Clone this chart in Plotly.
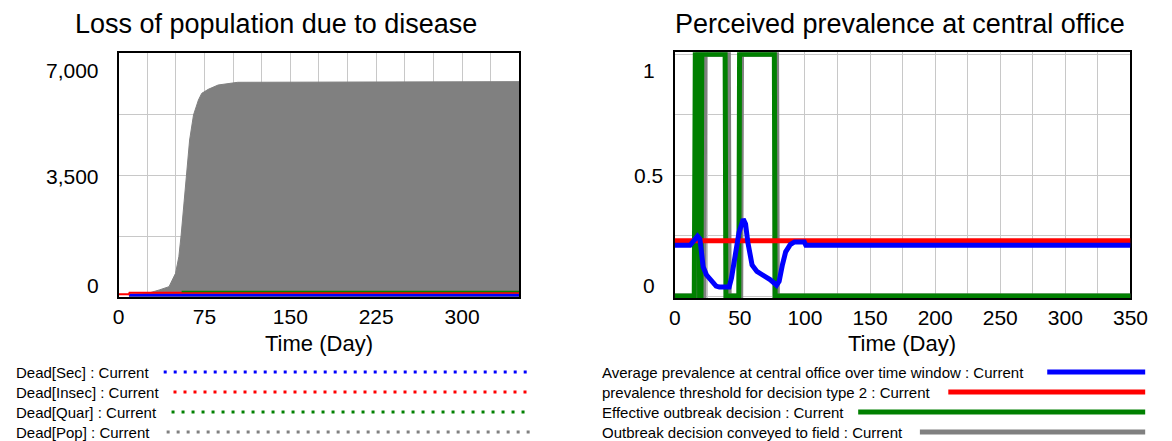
import plotly.graph_objects as go

# ---------------- data: left chart (Loss of population due to disease) ----------------
pop_days = [9, 25, 35.4, 44, 49.7, 52.6, 54.6, 56.9, 59.1, 62, 65.4, 69.7, 72.6, 78.3, 86.9, 104, 350]
dead_pop = [60, 100, 201, 296, 679, 1157, 1779, 2687, 3500, 4504, 5222, 5652, 5843, 5958, 6082, 6159, 6178]
sec_days = [9, 350]
dead_sec = [57, 57]
insec_days = [0, 9, 9.5, 350]
dead_insec = [80, 80, 120, 120]
quar_days = [55, 350]
dead_quar = [155, 155]

left_xticks = [0, 75, 150, 225, 300]
left_ylabels = [(7000, "7,000"), (3500, "3,500"), (0, "0")]
left_legend = ["Dead[Sec] : Current", "Dead[Insec] : Current", "Dead[Quar] : Current", "Dead[Pop] : Current"]

# ---------------- data: right chart (Perceived prevalence at central office) ----------------
avg_days = [0, 11.8, 17.5, 19.3, 20.5, 21.8, 24.3, 28.1, 31.8, 34.3, 41.8, 43.6, 46.1, 49.4, 52.6, 54.4,
            56.1, 59.4, 63.1, 68.2, 73.2, 78.2, 80.2, 82.7, 85.2, 88.7, 92, 99.5, 100.7, 350]
avg_prev = [0.210, 0.210, 0.248, 0.237, 0.183, 0.122, 0.088, 0.061, 0.041, 0.037, 0.037, 0.075, 0.169, 0.264,
            0.318, 0.298, 0.224, 0.129, 0.102, 0.085, 0.068, 0.045, 0.061, 0.129, 0.183, 0.213, 0.224, 0.224,
            0.210, 0.210]
thr_days = [0, 350]
threshold = [0.229, 0.229]
eff_days = [0, 15.0, 15.8, 18.5, 19.1, 20.2, 20.8, 38.7, 39.3, 49.2, 49.8, 76.5, 77.1, 350]
eff_dec = [0, 0, 1, 1, 0, 0, 1, 1, 0, 0, 1, 1, 0, 0]
conv_days = [0, 17.2, 17.8, 21.2, 21.8, 22.5, 23.1, 41.2, 41.8, 50.7, 51.3, 78.2, 78.8, 350]
conv_dec = [0, 0, 1, 1, 0, 0, 1, 1, 0, 0, 1, 1, 0, 0]

right_ylabels = [(1, "1"), (0.5, "0.5"), (0, "0")]
right_legend = ["Average prevalence at central office over time window : Current",
                "prevalence threshold for decision type 2 : Current",
                "Effective outbreak decision : Current",
                "Outbreak decision conveyed to field : Current"]

BLUE, RED, GREEN, GRAY = "#0000FF", "#FF0000", "#008000", "#808080"
FONT = "Liberation Sans, Arial, sans-serif"
W, H = 1172, 441
GRID = "#c8c8c8"


def px(x):
    return x / W


def py(y):
    return 1 - y / H


fig = go.Figure()

# left traces
fig.add_trace(go.Scatter(x=pop_days, y=dead_pop, mode="lines", line=dict(color=GRAY, width=1),
                         fill="tozeroy", fillcolor=GRAY, xaxis="x", yaxis="y", showlegend=False))
fig.add_trace(go.Scatter(x=sec_days, y=dead_sec, mode="lines", line=dict(color=BLUE, width=3),
                         xaxis="x", yaxis="y", showlegend=False))
fig.add_trace(go.Scatter(x=insec_days, y=dead_insec, mode="lines", line=dict(color=RED, width=2),
                         xaxis="x", yaxis="y", showlegend=False))
fig.add_trace(go.Scatter(x=quar_days, y=dead_quar, mode="lines", line=dict(color=GREEN, width=1.5),
                         xaxis="x", yaxis="y", showlegend=False))

# right traces
fig.add_trace(go.Scatter(x=conv_days, y=conv_dec, mode="lines", line=dict(color=GRAY, width=5),
                         xaxis="x2", yaxis="y2", showlegend=False))
fig.add_trace(go.Scatter(x=eff_days, y=eff_dec, mode="lines", line=dict(color=GREEN, width=5),
                         xaxis="x2", yaxis="y2", showlegend=False))
fig.add_trace(go.Scatter(x=thr_days, y=threshold, mode="lines", line=dict(color=RED, width=5),
                         xaxis="x2", yaxis="y2", showlegend=False))
fig.add_trace(go.Scatter(x=avg_days, y=avg_prev, mode="lines", line=dict(color=BLUE, width=5),
                         xaxis="x2", yaxis="y2", showlegend=False))

axis_common = dict(showline=True, linecolor="black", linewidth=2, mirror=True, ticks="",
                   showgrid=True, gridcolor=GRID, gridwidth=1, zeroline=False,
                   tickfont=dict(family=FONT, size=21, color="black"), fixedrange=True)

fig.update_layout(
    width=W, height=H, margin=dict(l=0, r=0, t=0, b=0),
    paper_bgcolor="white", plot_bgcolor="white",
    font=dict(family=FONT, color="black"),
    xaxis=dict(domain=[px(115), px(524)], range=[0, 350], tickvals=left_xticks,
               minor=dict(dtick=25, tick0=0, showgrid=True, gridcolor=GRID, gridwidth=1),
               anchor="y", layer="above traces", **axis_common),
    yaxis=dict(domain=[py(297), py(53)], range=[0, 7000], dtick=1750, showticklabels=False,
               anchor="x", layer="above traces", **axis_common),
    xaxis2=dict(domain=[px(682.7), px(1148)], range=[0, 350], dtick=50, tick0=0,
                minor=dict(dtick=25, tick0=0, showgrid=True, gridcolor=GRID, gridwidth=1),
                anchor="y2", layer="below traces", **axis_common),
    yaxis2=dict(domain=[py(298), py(52.3)], range=[-0.008, 1.008], dtick=0.25, tick0=0,
                showticklabels=False, anchor="x2", layer="below traces", **axis_common),
)

ann = []
# titles
ann.append(dict(text="Loss of population due to disease", x=px(276), y=py(24), xref="paper", yref="paper",
                xanchor="center", yanchor="middle", showarrow=False, font=dict(family=FONT, size=27)))
ann.append(dict(text="Perceived prevalence at central office", x=px(913), y=py(24), xref="paper",
                yref="paper", xanchor="center", yanchor="middle", showarrow=False,
                font=dict(family=FONT, size=27)))
# axis titles
for cx in (320, 915):
    ann.append(dict(text="Time (Day)", x=px(cx), y=py(343), xref="paper", yref="paper", xanchor="center",
                    yanchor="middle", showarrow=False, font=dict(family=FONT, size=22)))
# y labels (Vensim style, end labels pulled inside)
shifts = [-17, -1, 12]
for (v, t), s in zip(left_ylabels, shifts):
    ann.append(dict(text=t, x=px(97), y=v, xref="paper", yref="y", xanchor="right", yanchor="middle",
                    yshift=s, showarrow=False, font=dict(family=FONT, size=21)))
shifts = [-16, 0, 11]
for (v, t), s in zip(right_ylabels, shifts):
    ann.append(dict(text=t, x=px(656), y=v, xref="paper", yref="y2", xanchor="center", yanchor="middle",
                    yshift=s, showarrow=False, font=dict(family=FONT, size=21)))

# legends
rows = [372, 392, 412, 432]
left_cols = [BLUE, RED, GREEN, GRAY]
left_start = [161, 171, 169, 164]
shapes = []
for txt, r, c, xs in zip(left_legend, rows, left_cols, left_start):
    ann.append(dict(text=txt, x=px(8), y=py(r), xref="paper", yref="paper", xanchor="left",
                    yanchor="middle", showarrow=False, font=dict(family=FONT, size=15)))
    shapes.append(dict(type="line", xref="paper", yref="paper", x0=px(xs), x1=px(536), y0=py(r), y1=py(r),
                       line=dict(color=c, width=3, dash="3px,7px")))
right_cols = [BLUE, RED, GREEN, GRAY]
right_start = [1063, 962, 870, 933]
for txt, r, c, xs in zip(right_legend, rows, right_cols, right_start):
    ann.append(dict(text=txt, x=px(606), y=py(r), xref="paper", yref="paper", xanchor="left",
                    yanchor="middle", showarrow=False, font=dict(family=FONT, size=15)))
    shapes.append(dict(type="line", xref="paper", yref="paper", x0=px(xs), x1=px(1163), y0=py(r), y1=py(r),
                       line=dict(color=c, width=5)))

fig.update_layout(annotations=ann, shapes=shapes)
fig.write_html("out.html")
